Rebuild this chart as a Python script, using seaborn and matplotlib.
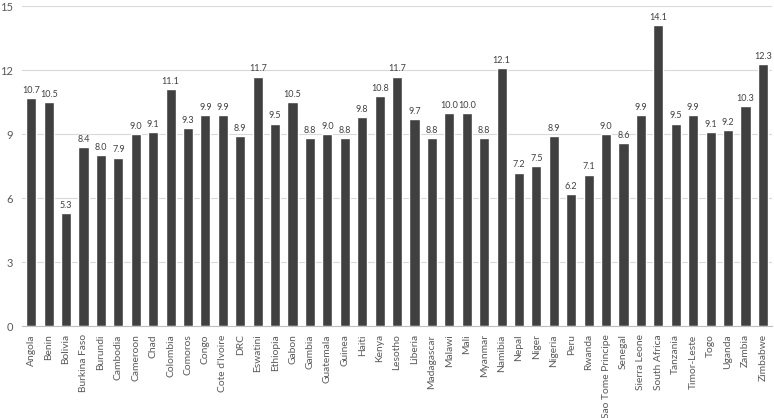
import numpy as np
import pandas as pd
import matplotlib.pyplot as plt
import seaborn as sns

countries = [
    "Angola", "Benin", "Bolivia", "Burkina Faso", "Burundi", "Cambodia",
    "Cameroon", "Chad", "Colombia", "Comoros", "Congo", "Cote d'Ivoire",
    "DRC", "Eswatini", "Ethiopia", "Gabon", "Gambia", "Guatemala", "Guinea",
    "Haiti", "Kenya", "Lesotho", "Liberia", "Madagascar", "Malawi", "Mali",
    "Myanmar", "Namibia", "Nepal", "Niger", "Nigeria", "Peru", "Rwanda",
    "Sao Tome Principe", "Senegal", "Sierra Leone", "South Africa",
    "Tanzania", "Timor-Leste", "Togo", "Uganda", "Zambia", "Zimbabwe",
]
values = [
    10.7, 10.5, 5.3, 8.4, 8.0, 7.9,
    9.0, 9.1, 11.1, 9.3, 9.9, 9.9,
    8.9, 11.7, 9.5, 10.5, 8.8, 9.0, 8.8,
    9.8, 10.8, 11.7, 9.7, 8.8, 10.0, 10.0,
    8.8, 12.1, 7.2, 7.5, 8.9, 6.2, 7.1,
    9.0, 8.6, 9.9, 14.1,
    9.5, 9.9, 9.1, 9.2, 10.3, 12.3,
]
y_ticks = [0, 3, 6, 9, 12, 15]

df = pd.DataFrame({"country": countries, "value": values})

sns.set_style("white")
plt.rcParams["font.family"] = ["Lato", "DejaVu Sans"]

fig = plt.figure(figsize=(7.74, 4.18), dpi=100)
ax = fig.add_axes([0.028, 0.22, 0.97, 0.765])

sns.barplot(data=df, x="country", y="value", color="#404040",
            saturation=1, width=0.58, ax=ax)

ax.set_ylim(0, 15)
ax.set_yticks(y_ticks)
ax.set_yticklabels([str(t) for t in y_ticks])
ax.set_xlim(-0.55, len(countries) - 0.45)
ax.set_xlabel("")
ax.set_ylabel("")

ax.yaxis.grid(True, color="#d9d9d9", linewidth=0.8)
ax.set_axisbelow(True)
for side in ["top", "right", "left"]:
    ax.spines[side].set_visible(False)
ax.spines["bottom"].set_color("#bfbfbf")
ax.spines["bottom"].set_linewidth(0.8)

ax.tick_params(axis="x", rotation=90, labelsize=7.4, colors="#595959", length=0, pad=6)
ax.tick_params(axis="y", labelsize=8, colors="#595959", length=0, pad=6)

for bar, v in zip(ax.patches, values):
    ax.text(bar.get_x() + bar.get_width() / 2, v + 0.15, f"{v:.1f}",
            ha="center", va="bottom", fontsize=6.5, color="#404040")

fig.savefig("out.png", dpi=100)
